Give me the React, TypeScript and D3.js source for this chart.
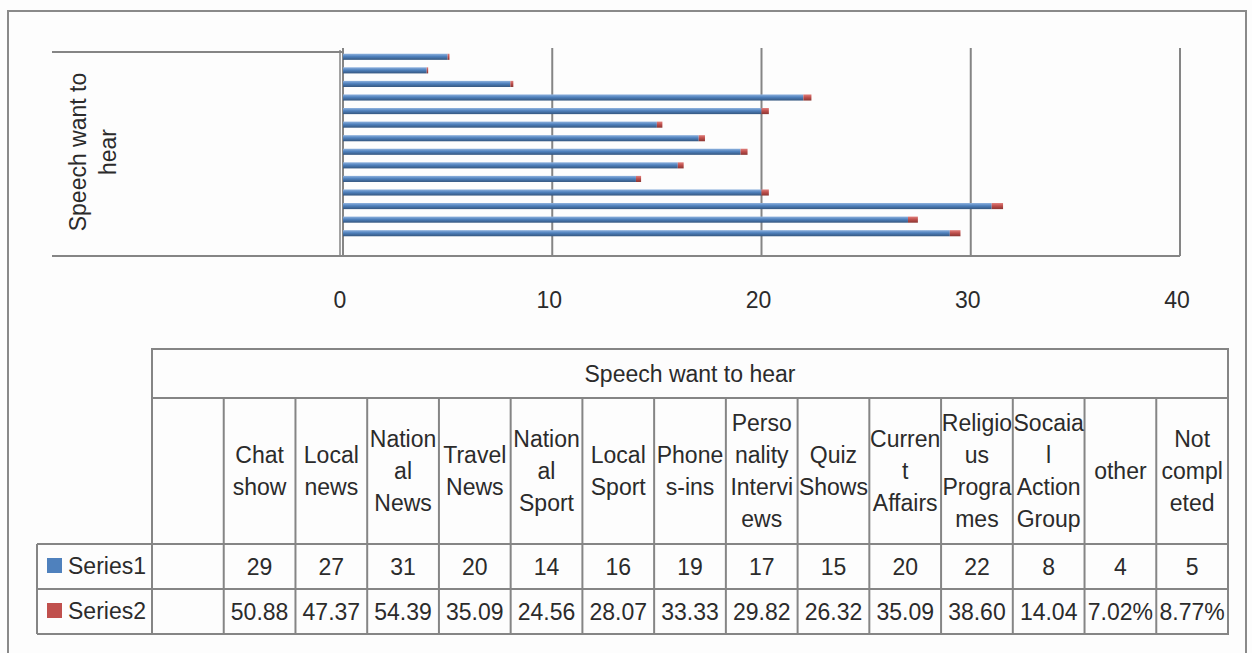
import React from "react";
import * as d3 from "d3";

const categoryLines: string[][] = [
  ["Chat", "show"],
  ["Local", "news"],
  ["Nation", "al", "News"],
  ["Travel", "News"],
  ["Nation", "al", "Sport"],
  ["Local", "Sport"],
  ["Phone", "s-ins"],
  ["Perso", "nality", "Intervi", "ews"],
  ["Quiz", "Shows"],
  ["Curren", "t", "Affairs"],
  ["Religio", "us", "Progra", "mes"],
  ["Socaia", "l", "Action", "Group"],
  ["other"],
  ["Not", "compl", "eted"],
];
const categories = categoryLines.map((l) => l.join(""));
const series1: number[] = [29, 27, 31, 20, 14, 16, 19, 17, 15, 20, 22, 8, 4, 5];
const series2: number[] = [50.88, 47.37, 54.39, 35.09, 24.56, 28.07, 33.33, 29.82, 26.32, 35.09, 38.6, 14.04, 7.02, 8.77];
const series2Labels: string[] = ["50.88", "47.37", "54.39", "35.09", "24.56", "28.07", "33.33", "29.82", "26.32", "35.09", "38.60", "14.04", "7.02%", "8.77%"];
const seriesNames = ["Series1", "Series2"];
const xTicks = [0, 10, 20, 30, 40];
const axisTitleLines = ["Speech want to", "hear"];
const tableTitle = "Speech want to hear";

const W = 1252;
const H = 653;
const FONT = "'Liberation Sans', Arial, sans-serif";
const TXT = "#2b2b2b";
const LINE = "#858585";
const BLUE = "#4f81bd";
const RED = "#c0504d";

export default function App() {
  const x = d3.scaleLinear().domain([0, 40]).range([343, 1180]);
  const y = d3
    .scaleBand<string>()
    .domain(categories)
    .range([240, 50])
    .paddingInner(0.55)
    .paddingOuter(0.275);
  const bh = y.bandwidth();

  // table geometry
  const tLeft = 152;
  const tRight = 1228;
  const colW = (tRight - tLeft) / (categories.length + 1);
  const colX = d3.range(categories.length + 2).map((i) => tLeft + i * colW);
  const rTop = 349;
  const r1 = 398;
  const r2 = 544;
  const r3 = 589;
  const r4 = 634;
  const legLeft = 37;

  return (
    <svg
      width={W}
      height={H}
      style={{ position: "absolute", left: 0, top: 0, background: "#fdfdfd" }}
      fontFamily={FONT}
    >
      <defs>
        <linearGradient id="gBlue" x1="0" y1="0" x2="0" y2="1">
          <stop offset="0" stopColor="#8fb2de" />
          <stop offset="0.45" stopColor={BLUE} />
          <stop offset="1" stopColor="#34567f" />
        </linearGradient>
        <linearGradient id="gRed" x1="0" y1="0" x2="0" y2="1">
          <stop offset="0" stopColor="#e0807d" />
          <stop offset="0.45" stopColor={RED} />
          <stop offset="1" stopColor="#8a3532" />
        </linearGradient>
      </defs>
      <rect x={0} y={0} width={W} height={H} fill="#fdfdfd" />
      {/* outer frame */}
      <rect x={8} y={11} width={1238} height={700} fill="none" stroke="#8a8a8a" strokeWidth={2} />

      {/* category-label box lines */}
      <line x1={52} x2={343} y1={52} y2={52} stroke={LINE} strokeWidth={2} />
      <line x1={52} x2={1180} y1={256} y2={256} stroke={LINE} strokeWidth={2} />

      {/* gridlines */}
      {xTicks.map((t) => (
        <line key={t} x1={x(t)} x2={x(t)} y1={48} y2={256} stroke={LINE} strokeWidth={2} />
      ))}
      <line x1={x(0) - 3} x2={x(0) - 3} y1={50} y2={256} stroke={LINE} strokeWidth={1.5} />

      {/* bars */}
      {categories.map((c, i) => {
        const yy = y(c)!;
        const v1 = series1[i];
        const v2 = series2[i] / 100;
        return (
          <g key={c}>
            <rect x={x(0)} y={yy} width={x(v1) - x(0)} height={bh} fill="url(#gBlue)" />
            <rect x={x(v1)} y={yy} width={x(v1 + v2) - x(v1)} height={bh} fill="url(#gRed)" />
          </g>
        );
      })}

      {/* axis title */}
      {axisTitleLines.map((l, i) => (
        <text
          key={l}
          transform={`translate(${86 + i * 30},152) rotate(-90)`}
          textAnchor="middle"
          fontSize={23}
          fill={TXT}
        >
          {l}
        </text>
      ))}

      {/* tick labels */}
      {xTicks.map((t) => (
        <text key={t} x={x(t) - 3} y={308} textAnchor="middle" fontSize={23} fill={TXT}>
          {t}
        </text>
      ))}

      {/* table */}
      <g stroke={LINE} strokeWidth={2} fill="none">
        <rect x={tLeft} y={rTop} width={tRight - tLeft} height={r4 - rTop} />
        <line x1={tLeft} x2={tRight} y1={r1} y2={r1} />
        <line x1={legLeft} x2={tRight} y1={r2} y2={r2} />
        <line x1={legLeft} x2={tRight} y1={r3} y2={r3} />
        <line x1={legLeft} x2={tLeft} y1={r4} y2={r4} />
        <line x1={legLeft} x2={legLeft} y1={r2} y2={r4} />
        {colX.slice(1, -1).map((cx, i) => (
          <line key={i} x1={cx} x2={cx} y1={r1} y2={r4} />
        ))}
      </g>
      <text x={(tLeft + tRight) / 2} y={(rTop + r1) / 2 + 8} textAnchor="middle" fontSize={23} fill={TXT}>
        {tableTitle}
      </text>
      {categoryLines.map((lines, i) => {
        const cx = (colX[i + 1] + colX[i + 2]) / 2;
        const mid = (r1 + r2) / 2;
        const lh = 32;
        const start = mid - ((lines.length - 1) * lh) / 2;
        return (
          <g key={i}>
            {lines.map((l, j) => (
              <text key={j} x={cx} y={start + j * lh + 8} textAnchor="middle" fontSize={23} fill={TXT}>
                {l}
              </text>
            ))}
            <text x={cx} y={(r2 + r3) / 2 + 8} textAnchor="middle" fontSize={23} fill={TXT}>
              {series1[i]}
            </text>
            <text x={cx} y={(r3 + r4) / 2 + 8} textAnchor="middle" fontSize={23} fill={TXT}>
              {series2Labels[i]}
            </text>
          </g>
        );
      })}
      {/* legend keys */}
      {seriesNames.map((s, i) => {
        const top = i === 0 ? r2 : r3;
        return (
          <g key={s}>
            <rect x={47} y={top + 14} width={15} height={15} fill={i === 0 ? BLUE : RED} />
            <text x={68} y={top + 30} fontSize={23} fill={TXT}>
              {s}
            </text>
          </g>
        );
      })}
    </svg>
  );
}
